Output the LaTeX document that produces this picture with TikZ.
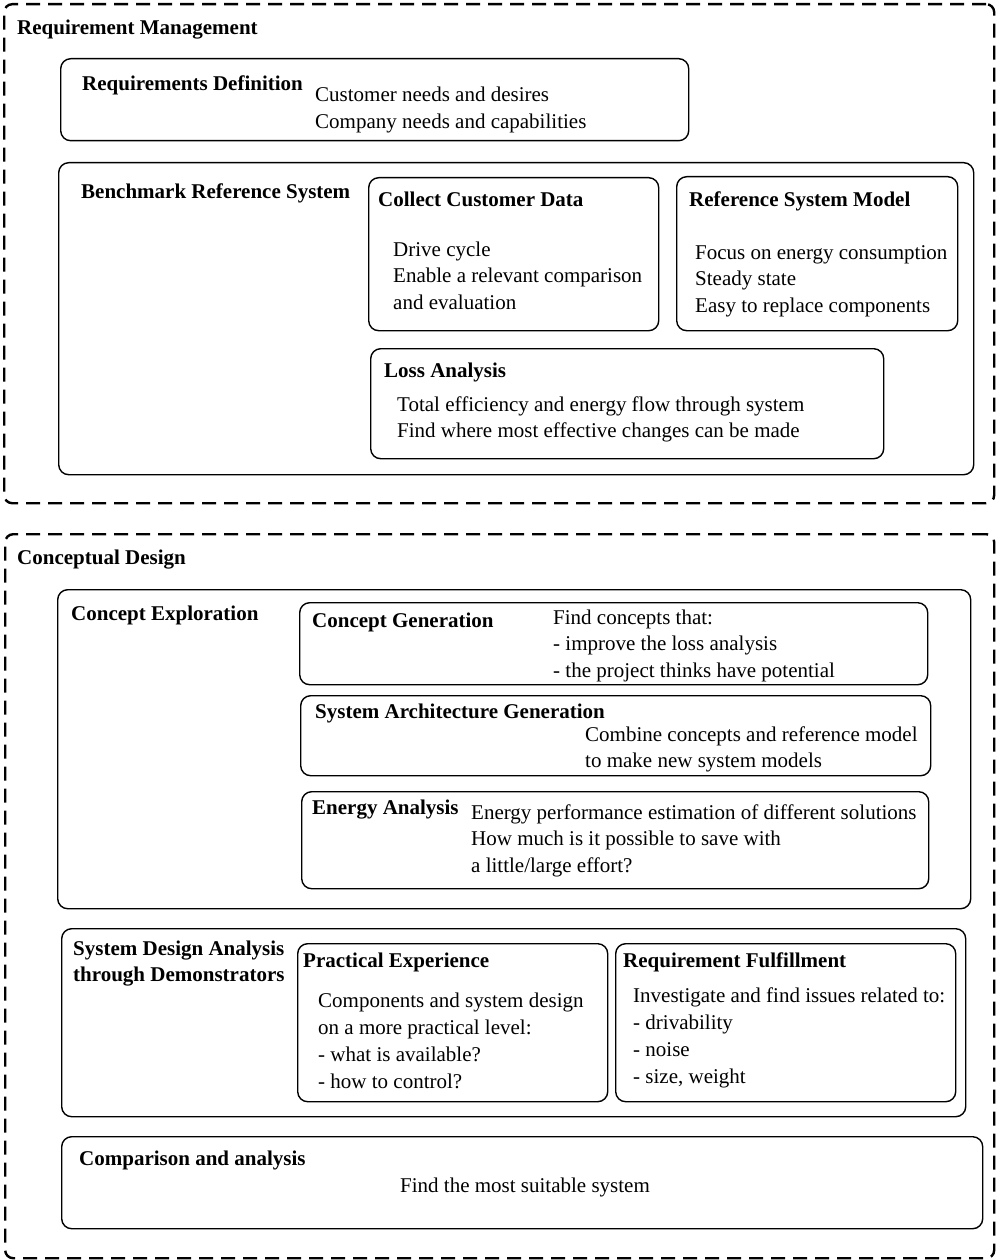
\documentclass[tikz,border=0pt]{standalone}
\usepackage{fontspec}
\setmainfont{Liberation Serif}
\begin{document}
\begin{tikzpicture}[x=1pt,y=-1pt,
  zone/.style={draw, line width=2.4pt, dash pattern=on 14pt off 8pt, rounded corners=8pt, anchor=north west, inner sep=0pt},
  box/.style={draw, line width=1.4pt, rounded corners=10pt, anchor=north west, inner sep=0pt},
  hd/.style={anchor=base west, inner sep=0pt, font=\fontsize{21}{26}\selectfont\bfseries, align=left},
  tx/.style={anchor=base west, inner sep=0pt, font=\fontsize{21}{26.7}\selectfont, align=left}]
\useasboundingbox (0,0) rectangle (996,1260);
% zones
\node[zone, minimum width=990pt, minimum height=499pt] (zoneA) at (3,3) {};
\node[zone, minimum width=989pt, minimum height=724pt] (zoneB) at (4,533) {};
% boxes
\node[box, minimum width=628pt, minimum height=82pt] (reqdef) at (60,58) {};
\node[box, minimum width=915pt, minimum height=312pt] (bench) at (58,162) {};
\node[box, minimum width=290pt, minimum height=153pt] (collect) at (368,177) {};
\node[box, minimum width=281pt, minimum height=154pt] (refmod) at (676,176) {};
\node[box, minimum width=513pt, minimum height=110pt] (loss) at (370,348) {};
\node[box, minimum width=913pt, minimum height=319pt] (explore) at (57,589) {};
\node[box, minimum width=628pt, minimum height=82pt] (cgen) at (299,602) {};
\node[box, minimum width=630pt, minimum height=80pt] (sag) at (300,695) {};
\node[box, minimum width=627pt, minimum height=97pt] (energy) at (301,791) {};
\node[box, minimum width=904pt, minimum height=188pt] (sda) at (61,928) {};
\node[box, minimum width=310pt, minimum height=158pt] (pract) at (297,943) {};
\node[box, minimum width=340pt, minimum height=158pt] (reqf) at (615,943) {};
\node[box, minimum width=921pt, minimum height=92pt] (comp) at (61,1136) {};
% texts (base = baseline of last line)
\node[hd] (tA) at (17,35) {Requirement Management};
\node[hd] (tReqdef) at (82,91) {Requirements Definition};
\node[tx] (xReqdef) at (315,128.7) {Customer needs and desires\\Company needs and capabilities};
\node[hd] (tBench) at (81,199) {Benchmark Reference System};
\node[hd] (tCollect) at (378,207) {Collect Customer Data};
\node[tx] (xCollect) at (393,309.4) {Drive cycle\\Enable a relevant comparison\\and evaluation};
\node[hd] (tRefmod) at (689,206) {Reference System Model};
\node[tx] (xRefmod) at (695,312.4) {Focus on energy consumption\\Steady state\\Easy to replace components};
\node[hd] (tLoss) at (384,377) {Loss Analysis};
\node[tx] (xLoss) at (397,437.7) {Total efficiency and energy flow through system\\Find where most effective changes can be made};
\node[hd] (tB) at (17,564) {Conceptual Design};
\node[hd] (tExplore) at (71,620) {Concept Exploration};
\node[hd] (tCgen) at (312,627) {Concept Generation};
\node[tx] (xCgen) at (553,677.4) {Find concepts that:\\- improve the loss analysis\\- the project thinks have potential};
\node[hd] (tSag) at (315,718) {System Architecture Generation};
\node[tx] (xSag) at (585,767.7) {Combine concepts and reference model\\to make new system models};
\node[hd] (tEnergy) at (312,814) {Energy Analysis};
\node[tx] (xEnergy) at (471,872.4) {Energy performance estimation of different solutions\\How much is it possible to save with\\a little/large effort?};
\node[hd] (tSda) at (73,981) {System Design Analysis\\through Demonstrators};
\node[hd] (tPract) at (303,967) {Practical Experience};
\node[tx] (xPract) at (318,1088) {Components and system design\\on a more practical level:\\- what is available?\\- how to control?};
\node[hd] (tReqf) at (623,967) {Requirement Fulfillment};
\node[tx] (xReqf) at (633,1083) {Investigate and find issues related to:\\- drivability\\- noise\\- size, weight};
\node[hd] (tComp) at (79,1165) {Comparison and analysis};
\node[tx, anchor=base] (xComp) at (525,1192) {Find the most suitable system};
\end{tikzpicture}
\end{document}
